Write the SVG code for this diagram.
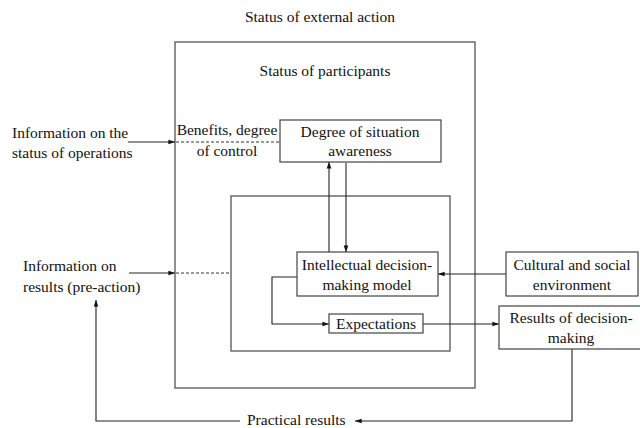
<svg xmlns="http://www.w3.org/2000/svg" width="640" height="428" viewBox="0 0 640 428">
<style>
.box{fill:#fff;stroke:#444;stroke-width:1.2}
.frame{fill:none;stroke:#555;stroke-width:1.3}
.ln{fill:none;stroke:#222;stroke-width:1.1}
.dash{fill:none;stroke:#333;stroke-width:1;stroke-dasharray:3 2}
</style>
<defs>
<marker id="ah" viewBox="0 0 10 10" refX="10" refY="5" markerWidth="6" markerHeight="6" orient="auto-start-reverse">
<path d="M0,1.5 L10,5 L0,8.5 z" fill="#111"/>
</marker>
</defs>
<rect width="640" height="428" fill="#fff"/>
<g font-family="Liberation Serif, Times New Roman, DejaVu Serif, serif" font-size="15.5" fill="#111">
<text x="320" y="22" text-anchor="middle">Status of external action</text>
<g id="participants">
<rect class="frame" x="175" y="42" width="300" height="346"/>
<text x="325" y="76" text-anchor="middle">Status of participants</text>
</g>
<g id="inner">
<rect class="frame" x="231" y="196" width="219" height="155"/>
</g>
<g id="connectors">
<line class="ln" x1="128" y1="142" x2="175" y2="142" marker-end="url(#ah)"/>
<line class="dash" x1="176" y1="142" x2="280" y2="142"/>
<line class="ln" x1="129" y1="273" x2="175" y2="273" marker-end="url(#ah)"/>
<line class="dash" x1="176" y1="273" x2="231" y2="273"/>
<line class="ln" x1="329" y1="252" x2="329" y2="162" marker-end="url(#ah)"/>
<line class="ln" x1="346" y1="163" x2="346" y2="252" marker-end="url(#ah)"/>
<line class="ln" x1="506" y1="274" x2="438" y2="274" marker-end="url(#ah)"/>
<polyline class="ln" points="297,277 272,277 272,324 329,324" marker-end="url(#ah)"/>
<line class="ln" x1="423" y1="324" x2="499" y2="324" marker-end="url(#ah)"/>
<polyline class="ln" points="572,349 572,421 355,421" marker-end="url(#ah)"/>
<polyline class="ln" points="240,421 96,421 96,300" marker-end="url(#ah)"/>
</g>
<g id="info-operations">
<text x="12" y="138">Information on the</text>
<text x="12" y="158">status of operations</text>
</g>
<g id="benefits">
<text x="227" y="135" text-anchor="middle">Benefits, degree</text>
<text x="227" y="156" text-anchor="middle">of control</text>
</g>
<g id="awareness">
<rect class="box" x="280" y="120" width="161" height="42"/>
<text x="360" y="137" text-anchor="middle">Degree of situation</text>
<text x="360" y="156" text-anchor="middle">awareness</text>
</g>
<g id="info-results">
<text x="23" y="271">Information on</text>
<text x="23" y="292">results (pre-action)</text>
</g>
<g id="model">
<rect class="box" x="297" y="252" width="141" height="44"/>
<text x="367" y="270" text-anchor="middle">Intellectual decision-</text>
<text x="367" y="290" text-anchor="middle">making model</text>
</g>
<g id="cultural">
<rect class="box" x="506" y="252" width="132" height="44"/>
<text x="572" y="270" text-anchor="middle">Cultural and social</text>
<text x="572" y="290" text-anchor="middle">environment</text>
</g>
<g id="expectations">
<rect class="box" x="329" y="314" width="94" height="19"/>
<text x="376" y="329" text-anchor="middle">Expectations</text>
</g>
<g id="results">
<rect class="box" x="499" y="306" width="145" height="43"/>
<text x="571" y="323" text-anchor="middle">Results of decision-</text>
<text x="571" y="343" text-anchor="middle">making</text>
</g>
<g id="practical">
<text x="247" y="425">Practical results</text>
</g>
</g>
</svg>
